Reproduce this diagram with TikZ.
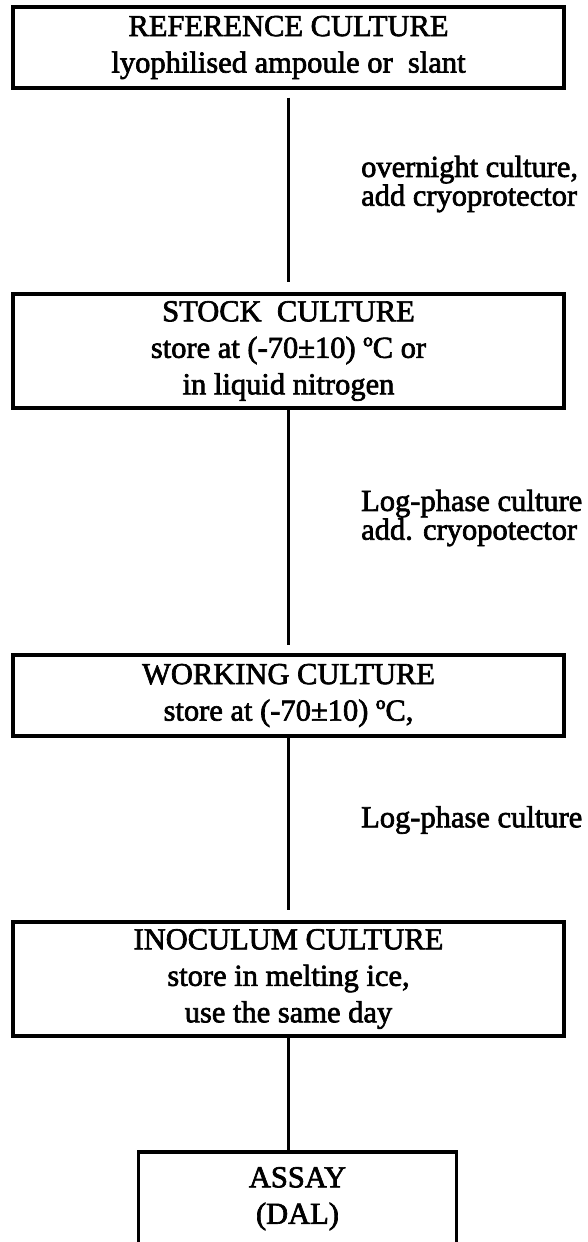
\documentclass[tikz,border=0pt]{standalone}
\usepackage{fontspec}
\setmainfont{Liberation Serif}[RawFeature={embolden=2.2}]
\usetikzlibrary{calc}
\begin{document}
\begin{tikzpicture}[x=1pt,y=1pt,
  boxnode/.style={draw, line width=3.4pt, align=center, inner sep=0pt,
    font=\fontsize{30.5}{36.5}\selectfont},
  lbl/.style={anchor=west, align=left, inner sep=0pt,
    font=\fontsize{30.5}{27}\selectfont},
  conn/.style={line width=3.4pt}]
\useasboundingbox[fill=white] (0,0) rectangle (587,-1242);
\node[boxnode, minimum width=551pt, minimum height=81pt] (b1) at (288.5,-47.5)
  {REFERENCE CULTURE\\lyophilised ampoule or\ \ slant};
\node[boxnode, minimum width=551pt, minimum height=114pt] (b2) at (288.5,-351)
  {STOCK\ \ CULTURE\\store at (-70±10) ºC or\\in liquid nitrogen};
\node[boxnode, minimum width=551pt, minimum height=81pt] (b3) at (288.5,-695.5)
  {WORKING CULTURE\\store at (-70±10) ºC,};
\node[boxnode, minimum width=551pt, minimum height=114pt] (b4) at (288.5,-979)
  {INOCULUM CULTURE\\store in melting ice,\\use the same day};
\node[boxnode, draw=none, minimum width=315pt, minimum height=90pt, anchor=north] (b5) at (297.5,-1152)
  {ASSAY\\(DAL)};
\draw[conn] (b5.south west) -- (b5.north west) -- (b5.north east) -- (b5.south east);
\draw[conn, shorten <=8pt, shorten >=10pt] (b1.south) -- (b2.north);
\draw[conn, shorten >=8pt] (b2.south) -- (b3.north);
\draw[conn, shorten >=10pt] (b3.south) -- (b4.north);
\draw[conn] (b4.south) -- (b4.south |- b5.north);
\node[lbl] (l1) at (361,-184) {overnight culture,\\add cryoprotector};
\node[lbl] (l2) at (361,-518) {Log-phase culture\\add. cryopotector};
\node[lbl] (l3) at (361,-820) {Log-phase culture};
\end{tikzpicture}
\end{document}
